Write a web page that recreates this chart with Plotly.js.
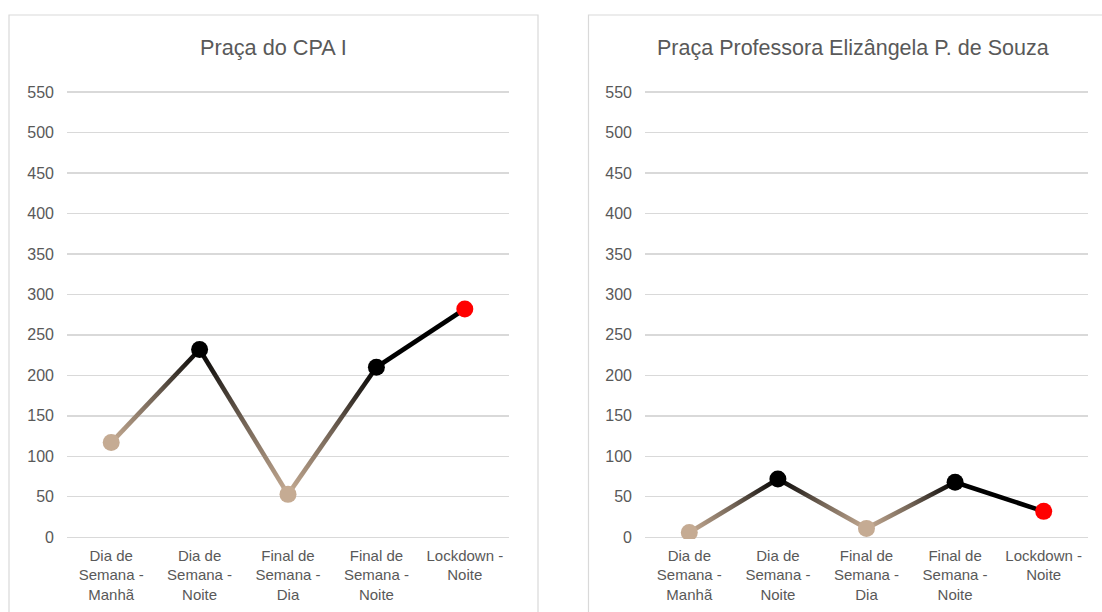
<!DOCTYPE html>
<html>
<head>
<meta charset="utf-8">
<script src="https://cdn.plot.ly/plotly-3.0.1.min.js"></script>
<style>html,body{margin:0;padding:0;background:#fff;}#chart{width:1102px;height:612px;}</style>
</head>
<body>
<div id="chart"></div>
<script>
// ---- data ----
const categories = [
  "Dia de<br>Semana -<br>Manhã",
  "Dia de<br>Semana -<br>Noite",
  "Final de<br>Semana -<br>Dia",
  "Final de<br>Semana -<br>Noite",
  "Lockdown -<br>Noite"
];
const titleLeft = "Praça do CPA I";
const titleRight = "Praça Professora Elizângela P. de Souza";
const valuesCPA = [117, 232, 53, 210, 282];
const valuesElizangela = [6, 72, 11, 68, 32];

// ---- style ----
const TAN = "#c5ab93", BLACK = "#000000", RED = "#ff0000";
const markerColors = [TAN, BLACK, TAN, BLACK, RED];
const lineEndColors = [TAN, BLACK, TAN, BLACK, BLACK];
const FONT = "Liberation Sans, Arial, sans-serif";
const TXT = "#595959";
const W = 1102, H = 612;

function hexToRgb(h){h=h.replace('#','');return [parseInt(h.substr(0,2),16),parseInt(h.substr(2,2),16),parseInt(h.substr(4,2),16)];}
function mix(a,b,t){const A=hexToRgb(a),B=hexToRgb(b);return 'rgb('+A.map((v,i)=>Math.round(v*(1-t)+B[i]*t)).join(',')+')';}

const traces = [];
const gradSpecs = [];
function addPanel(vals, xa, ya){
  for(let i=0;i<vals.length-1;i++){
    traces.push({
      type:'scatter', mode:'lines', x:[categories[i],categories[i+1]], y:[vals[i],vals[i+1]],
      xaxis:xa, yaxis:ya, line:{color:mix(lineEndColors[i],lineEndColors[i+1],0.5), width:4.6},
      hoverinfo:'skip', showlegend:false
    });
    gradSpecs.push([lineEndColors[i], lineEndColors[i+1]]);
  }
}
addPanel(valuesCPA,'x','y');
addPanel(valuesElizangela,'x2','y2');
const nLineTraces = traces.length;
traces.push({type:'scatter', mode:'markers', x:categories, y:valuesCPA, xaxis:'x', yaxis:'y',
  marker:{color:markerColors, size:17, line:{width:0}}, showlegend:false, hoverinfo:'y'});
traces.push({type:'scatter', mode:'markers', x:categories, y:valuesElizangela, xaxis:'x2', yaxis:'y2',
  marker:{color:markerColors, size:17, line:{width:0}}, showlegend:false, hoverinfo:'y'});

const yDomain = [1-538.9/H, 1-90.4/H];
function xAxis(domain){
  return {domain:domain, type:'category', range:[-0.5,4.5], showgrid:false, showline:false, zeroline:false,
    ticks:'', tickfont:{family:FONT, size:15, color:TXT}, ticklabelstandoff:6, fixedrange:true};
}
function yAxis(anchor){
  return {domain:yDomain, anchor:anchor, range:[-2,552], tick0:0, dtick:50, showgrid:true, gridcolor:'#d9d9d9',
    gridwidth:1.4, zeroline:false, showline:false, ticks:'', tickfont:{family:FONT, size:16, color:TXT},
    ticklabelstandoff:12, fixedrange:true};
}

const layout = {
  width:W, height:H, margin:{l:0,r:0,t:0,b:0}, paper_bgcolor:'#fff', plot_bgcolor:'rgba(0,0,0,0)',
  showlegend:false,
  xaxis: Object.assign(xAxis([67/W, 509/W]), {anchor:'y'}),
  yaxis: yAxis('x'),
  xaxis2: Object.assign(xAxis([645/W, 1088/W]), {anchor:'y2'}),
  yaxis2: yAxis('x2'),
  shapes:[
    {type:'rect', xref:'paper', yref:'paper', x0:9/W, x1:538/W, y0:-0.2, y1:1-15/H, line:{color:'#d9d9d9', width:1.2}, layer:'below'},
    {type:'rect', xref:'paper', yref:'paper', x0:588.5/W, x1:1.2, y0:-0.2, y1:1-15/H, line:{color:'#d9d9d9', width:1.2}, layer:'below'}
  ],
  annotations:[
    {text:titleLeft, xref:'paper', yref:'paper', x:273.5/W, y:1-48/H, xanchor:'center', yanchor:'middle', showarrow:false,
      font:{family:FONT, size:21.7, color:TXT}},
    {text:titleRight, xref:'paper', yref:'paper', x:853/W, y:1-48/H, xanchor:'center', yanchor:'middle', showarrow:false,
      font:{family:FONT, size:21.5, color:TXT}}
  ]
};

Plotly.newPlot('chart', traces, layout, {displayModeBar:false, staticPlot:true}).then(function(gd){
  const svg = gd.querySelector('svg.main-svg');
  const NS = 'http://www.w3.org/2000/svg';
  let defs = svg.querySelector('defs');
  if(!defs){defs = document.createElementNS(NS,'defs'); svg.insertBefore(defs, svg.firstChild);}
  function addStop(lg, off, col){
    const s = document.createElementNS(NS,'stop'); s.setAttribute('offset',off); s.setAttribute('stop-color',col); lg.appendChild(s);
  }
  const traceGroups = gd.querySelectorAll('.scatterlayer .trace');
  traceGroups.forEach(function(g, idx){
    const cd = g.__data__;
    const tIndex = cd && cd[0] && cd[0].trace ? cd[0].trace.index : idx;
    if(tIndex >= nLineTraces) return;
    const path = g.querySelector('path.js-line');
    if(!path) return;
    const nums = (path.getAttribute('d')||'').match(/-?\d+(\.\d+)?/g);
    if(!nums || nums.length<4) return;
    const x1=nums[0], y1=nums[1], x2=nums[nums.length-2], y2=nums[nums.length-1];
    const id = 'seggrad'+tIndex;
    const lg = document.createElementNS(NS,'linearGradient');
    lg.setAttribute('id',id); lg.setAttribute('gradientUnits','userSpaceOnUse');
    lg.setAttribute('x1',x1); lg.setAttribute('y1',y1); lg.setAttribute('x2',x2); lg.setAttribute('y2',y2);
    const a = gradSpecs[tIndex][0], b = gradSpecs[tIndex][1];
    addStop(lg, '0', a);
    // slightly lighter midpoint, as the tan end dominates visually in the source
    const aTan = (a === TAN), bTan = (b === TAN);
    if (aTan !== bTan) {
      const t = aTan ? 0.42 : 0.58;
      addStop(lg, '0.5', mix(a, b, t));
    }
    addStop(lg, '1', b);
    defs.appendChild(lg);
    path.style.stroke = 'url(#'+id+')';
  });
});
</script>
</body>
</html>
